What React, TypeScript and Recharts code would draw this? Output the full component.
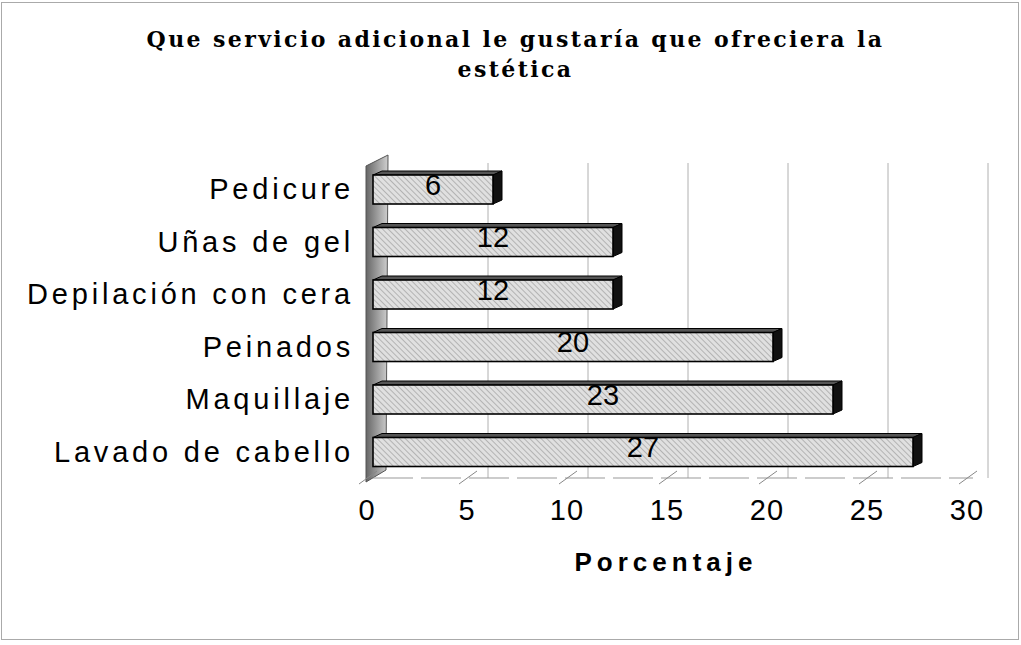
import React from 'react';
import { BarChart, Bar, XAxis, YAxis, CartesianGrid, LabelList, ReferenceArea } from 'recharts';

const categories = ['Pedicure', 'Uñas de gel', 'Depilación con cera', 'Peinados', 'Maquillaje', 'Lavado de cabello'];
const porcentajes = [6, 12, 12, 20, 23, 27];
const xTicks = [0, 5, 10, 15, 20, 25, 30];

const data = categories.map((name, i) => ({ name, value: porcentajes[i] }));

const sans = '"Liberation Sans", Arial, sans-serif';

// front face + thin top + dark right side, like the old 3D excel bars
const Bar3D = (props: any) => {
  const { x, y, width, height } = props;
  const dx = 9;
  const dy = 4;
  return (
    <g>
      <polygon
        points={`${x},${y} ${x + dx},${y - dy} ${x + width + dx},${y - dy} ${x + width},${y}`}
        fill="#555"
        stroke="#000"
        strokeWidth={1}
      />
      <polygon
        points={`${x + width},${y} ${x + width + dx},${y - dy} ${x + width + dx},${y + height - dy} ${x + width},${y + height}`}
        fill="#111"
        stroke="#000"
        strokeWidth={1}
      />
      <rect x={x} y={y} width={width} height={height} fill="url(#hatch)" stroke="#000" strokeWidth={1.6} />
    </g>
  );
};

const Wall = (props: any) => {
  const { x, y, height } = props;
  return (
    <polygon
      points={`${x - 7},${y + 3} ${x + 15},${y - 8} ${x + 13},${y + height - 8} ${x - 7},${y + height + 4}`}
      fill="url(#wallGrad)"
      stroke="#555"
      strokeWidth={1}
    />
  );
};

const XTick = (props: any) => {
  const { x, y, payload } = props;
  return (
    <g>
      <line x1={x - 14} y1={y + 6} x2={x + 4} y2={y - 7} stroke="#888" strokeWidth={1} />
      <text x={x - 6} y={y + 42} textAnchor="middle" fontFamily={sans} fontSize={29} letterSpacing={1} fill="#000">
        {payload.value}
      </text>
    </g>
  );
};

const YTick = (props: any) => {
  const { x, y, payload } = props;
  return (
    <text x={x - 19} y={y + 10} textAnchor="end" fontFamily={sans} fontSize={29} letterSpacing={3.8} fill="#000">
      {payload.value}
    </text>
  );
};

const ValueLabel = (props: any) => {
  const vb = props.viewBox || {};
  const x = props.x ?? vb.x;
  const y = props.y ?? vb.y;
  const width = props.width ?? vb.width;
  const height = props.height ?? vb.height;
  return (
    <text x={x + width / 2} y={y + height / 2 + 5} textAnchor="middle" fontFamily={sans} fontSize={29} fill="#000">
      {props.value}
    </text>
  );
};

// back-wall gridlines sit a bit to the right of the front values
const gridGen = (p: any) => {
  const off = p?.offset;
  if (!off) return [];
  const max = xTicks[xTicks.length - 1];
  return xTicks.filter((t) => t > 0).map((t) => off.left + (t / max) * off.width + 15);
};

export default function App() {
  return (
    <div style={{ position: 'absolute', left: 0, top: 0, width: 1021, height: 645, background: '#fff', overflow: 'hidden' }}>
      <div style={{ position: 'absolute', left: 1, top: 2, width: 1016, height: 636, border: '1px solid #aaa' }} />
      <div
        style={{
          position: 'absolute',
          left: 0,
          top: 24,
          width: 1031,
          textAlign: 'center',
          fontFamily: '"DejaVu Serif", serif',
          fontWeight: 'bold',
          fontSize: 22,
          lineHeight: '30px',
          letterSpacing: 2.4,
        }}
      >
        Que servicio adicional le gustaría que ofreciera la
        <br />
        estética
      </div>
      <div
        style={{
          position: 'absolute',
          left: 566,
          top: 547,
          width: 200,
          textAlign: 'center',
          fontFamily: sans,
          fontWeight: 'bold',
          fontSize: 26,
          letterSpacing: 5,
        }}
      >
        Porcentaje
      </div>
      <div style={{ position: 'absolute', left: 0, top: 0 }}>
        <BarChart width={1021} height={645} data={data} layout="vertical" margin={{ top: 163, right: 48, bottom: 107, left: 0 }}>
          <defs>
            <pattern id="hatch" width="4" height="4" patternUnits="userSpaceOnUse" patternTransform="rotate(-45)">
              <rect width="4" height="4" fill="#e0e0e0" />
              <line x1="0" y1="0" x2="0" y2="4" stroke="#959595" strokeWidth="1.2" />
            </pattern>
            <linearGradient id="wallGrad" x1="0" y1="0" x2="1" y2="0">
              <stop offset="0%" stopColor="#666" />
              <stop offset="100%" stopColor="#cfcfcf" />
            </linearGradient>
          </defs>
          <CartesianGrid horizontal={false} stroke="#b0b0b0" verticalCoordinatesGenerator={gridGen} />
          <XAxis
            type="number"
            domain={[0, 30]}
            ticks={xTicks}
            height={60}
            tickLine={false}
            tickSize={0}
            tickMargin={0}
            axisLine={{ stroke: '#999', strokeDasharray: '40 8' }}
            tick={<XTick />}
          />
          <YAxis type="category" dataKey="name" width={373} tickLine={false} tickSize={0} tickMargin={0} axisLine={false} tick={<YTick />} />
          <ReferenceArea x1={0} x2={1} ifOverflow="visible" shape={<Wall />} />
          <Bar dataKey="value" barSize={29} shape={<Bar3D />} isAnimationActive={false}>
            <LabelList dataKey="value" content={<ValueLabel />} />
          </Bar>
        </BarChart>
      </div>
    </div>
  );
}
